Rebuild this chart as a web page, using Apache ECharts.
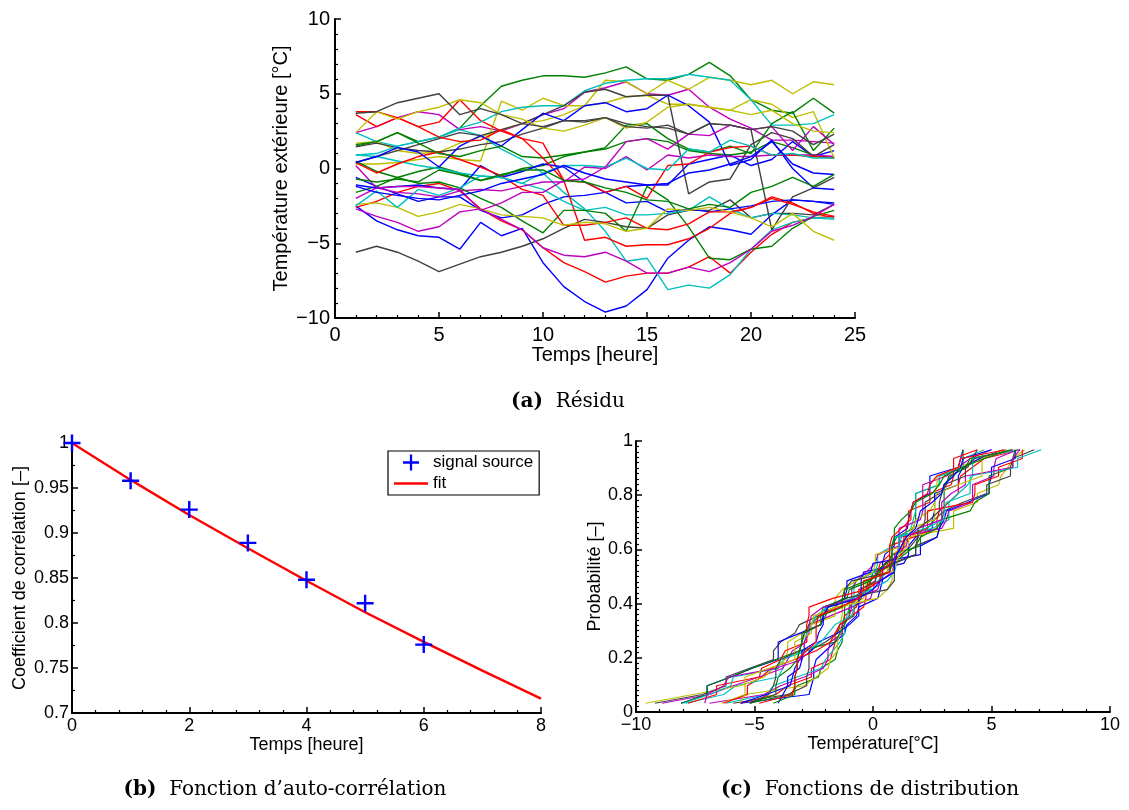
<!DOCTYPE html>
<html><head><meta charset="utf-8">
<script src="https://cdn.jsdelivr.net/npm/echarts@6/dist/echarts.min.js"></script>
<style>html,body{margin:0;padding:0;background:#fff}#c{width:1129px;height:810px}</style>
</head><body><div id="c"></div>
<script>
// ---------- DATA ----------
const hours = [1,2,3,4,5,6,7,8,9,10,11,12,13,14,15,16,17,18,19,20,21,22,23,24];
// (a) residual series, one row per curve (values in °C at hours 1..24)
const residualSeries = [
  [-2.5,-3.5,-4.1,-4.5,-4.6,-5.4,-3.6,-4.5,-4.0,-6.3,-7.9,-8.9,-9.6,-9.2,-8.1,-6.0,-4.8,-3.9,-4.1,-4.4,-3.1,-2.1,-2.2,-2.4],
  [1.5,1.8,2.4,1.8,2.1,2.7,4.2,5.5,5.9,6.2,6.2,6.1,6.4,6.8,6.0,5.9,6.3,7.1,6.2,4.6,3.9,3.7,4.7,3.7],
  [-2.6,-2.2,-1.6,-1.2,-1.0,-1.5,-2.7,-3.5,-4.1,-5.3,-6.3,-6.9,-7.6,-7.2,-7.0,-7.0,-6.6,-5.9,-7.0,-5.6,-4.4,-3.6,-3.3,-3.2],
  [2.4,1.8,1.5,1.8,2.1,2.6,2.2,1.3,0.6,-0.3,-1.6,-2.7,-4.2,-6.2,-6.0,-8.1,-7.8,-8.0,-7.1,-5.4,-4.1,-3.6,-3.3,-3.4],
  [2.4,2.8,3.4,3.8,3.6,2.6,2.8,2.5,3.0,3.6,4.0,5.1,5.4,5.8,5.0,4.9,5.3,4.1,3.3,2.7,1.9,1.9,1.8,1.7],
  [0.3,0.3,0.4,0.6,0.8,0.6,0.5,4.5,3.9,4.7,4.2,4.2,5.9,5.8,5.0,5.9,5.3,6.1,5.9,5.6,5.9,5.0,5.8,5.6],
  [-5.6,-5.2,-5.6,-6.2,-6.9,-6.4,-5.9,-5.6,-5.2,-4.7,-4.0,-3.4,-3.6,-3.9,-4.0,-3.1,-2.8,-2.8,-2.1,-3.3,-3.0,-3.0,-3.1,-2.4],
  [-0.6,-1.2,-1.7,-2.2,-1.9,-1.9,-2.8,-3.3,-3.1,-2.4,-1.9,-1.8,-1.6,-1.2,-1.1,-1.1,0.3,0.6,0.9,0.2,0.6,1.8,0.8,1.2],
  [-1.6,-1.2,-0.6,-0.2,0.1,-0.3,-0.8,-0.5,0.0,0.2,0.8,1.1,1.3,1.8,2.0,1.8,1.2,1.0,0.9,1.1,1.8,1.4,0.9,0.7],
  [3.8,3.8,3.4,2.8,3.1,4.6,3.2,2.5,2.0,1.7,-0.8,-4.8,-4.6,-5.2,-5.1,-5.1,-4.7,-4.0,-3.0,-2.6,-1.9,-2.3,-3.0,-3.3],
  [0.9,0.8,0.5,0.2,0.0,-0.3,-0.5,-0.6,-1.0,-1.4,-2.2,-2.8,-2.6,-3.1,-3.1,-3.0,-2.8,-1.9,-2.7,-3.3,-3.0,-3.1,-3.3,-3.3],
  [0.2,-1.3,-1.6,-1.7,-1.9,-1.5,-1.4,-1.5,-1.2,-0.9,-0.9,0.1,0.0,0.8,-0.1,0.9,0.7,0.9,0.8,0.8,0.9,0.9,0.9,0.8],
  [1.7,1.8,1.2,1.0,1.1,1.7,2.1,2.6,3.0,3.2,3.6,4.2,4.4,4.8,4.9,4.3,4.3,4.1,3.9,4.6,4.3,3.4,3.8,0.7],
  [1.45,1.7,1.4,1.2,1.1,1.3,1.6,1.8,2.3,2.7,3.2,3.2,3.4,3.0,2.8,2.7,2.3,3.0,2.9,2.6,-4.1,-1.9,-1.3,-0.6],
  [-1.1,-1.3,-1.2,-1.1,-1.3,-1.4,0.2,-0.6,-0.2,0.3,0.1,-0.9,-1.6,-2.3,-2.2,-2.9,-2.7,-2.9,-2.7,-2.5,-2.2,-2.1,-2.2,-2.3],
  [0.5,-0.2,-0.6,-1.0,-0.9,-1.3,-2.0,-2.6,-3.5,-4.3,-2.8,-2.8,-3.0,-4.2,-1.2,-2.1,-3.9,-6.0,-6.1,-5.4,-5.2,-4.0,-3.2,-2.8],
  [0.4,-0.3,0.3,0.8,1.1,0.6,0.1,-0.5,-1.4,-1.8,-3.8,-3.8,-3.6,-3.3,-4.0,-4.1,-3.7,-2.9,-2.9,-2.6,-2.0,-2.4,-2.9,-3.2],
  [0.9,1.0,1.5,1.8,2.1,2.7,3.1,3.8,4.1,4.2,4.2,5.2,5.7,5.9,6.0,6.0,6.3,6.1,5.9,4.6,2.9,2.9,3.0,3.6],
  [-2.7,-3.2,-3.6,-4.2,-3.9,-2.9,-2.7,-3.4,-4.1,-5.3,-5.8,-5.9,-5.6,-6.2,-7.0,-7.0,-6.6,-6.9,-6.3,-5.4,-4.2,-3.8,-3.2,-2.4],
  [-2.4,-2.3,-2.6,-3.2,-2.9,-2.4,-2.7,-3.1,-3.2,-3.3,-3.8,-3.6,-3.7,-4.2,-4.0,-2.7,-2.8,-2.6,-2.9,-3.3,-3.9,-3.0,-4.2,-4.8],
  [0.4,0.8,1.2,1.6,2.0,2.4,2.2,2.6,3.0,3.6,4.2,5.1,5.3,4.8,4.9,4.9,-1.7,-0.9,-0.7,1.6,2.4,2.0,0.8,1.6],
  [0.4,0.8,1.4,1.1,0.1,1.5,2.2,1.5,2.6,3.7,3.2,4.2,4.4,3.8,4.0,4.9,4.2,3.1,0.2,0.6,1.9,0.0,-1.3,-1.4],
  [1.6,1.8,2.4,1.7,1.0,0.8,1.2,1.5,0.8,0.7,0.9,1.1,1.4,2.9,3.0,2.0,1.3,1.1,1.5,1.0,3.0,3.8,1.2,2.7],
  [3.6,2.8,3.4,2.8,2.1,1.8,1.9,2.6,2.0,0.7,-0.8,-0.9,-1.6,-1.2,-2.0,0.2,0.3,1.1,1.4,1.5,0.9,0.9,0.8,0.7],
  [-2.5,-1.5,-2.6,-1.4,-1.8,-1.3,-0.5,-0.6,-1.0,-0.3,0.2,0.2,0.1,0.7,0.0,-0.1,1.3,1.1,1.9,1.5,0.9,1.0,0.7,0.7],
  [-2.0,-1.3,-1.2,-1.2,-1.3,-1.4,-2.8,-2.3,-1.6,-1.6,-0.8,-0.7,0.1,1.8,2.0,1.3,2.3,2.2,2.9,2.6,2.8,1.2,2.8,1.6],
  [2.4,3.8,3.3,3.8,4.1,4.6,4.4,3.6,3.3,2.7,2.5,2.9,3.4,2.7,3.1,4.1,4.3,4.1,3.9,3.6,3.9,3.0,2.5,2.4],
  [3.7,3.8,4.4,4.7,5.0,3.6,4.0,3.6,3.0,2.8,3.2,3.1,3.4,2.8,2.7,2.9,2.3,3.0,2.9,2.6,2.8,2.5,1.6,2.3],
  [-1.2,-1.6,-1.8,-2.0,-2.1,-1.8,-1.5,-1.0,-0.7,-0.4,0.2,-0.3,-0.7,-0.9,-1.1,-1.0,-0.3,-0.1,0.3,0.8,1.8,0.3,-0.3,-0.4],
  [-0.7,-0.9,-0.7,-0.9,-0.1,-0.4,-0.8,-0.4,-0.1,-0.1,-0.8,-0.9,-1.3,-1.6,-2.1,-2.2,-2.7,-2.4,-2.6,-1.6,-1.2,-0.6,-1.2,-0.4]
];
// (b) auto-correlation
const lagHours = [0,1,2,3,4,5,6];
const acfSource = [1.0,0.958,0.926,0.889,0.848,0.822,0.776];
const fitHours = [0,1,2,3,4,5,6,7,8];
const fitValues = [1.0,0.959,0.920,0.883,0.847,0.812,0.779,0.747,0.716];
const colorsMatlab = ['#0000ff','#008000','#ff0000','#00bfbf','#bf00bf','#bfbf00','#404040'];

// ---------- CHART ----------
const chart = echarts.init(document.getElementById('c'), null, {renderer:'canvas'});
const FONT = 'Liberation Sans, Arial, sans-serif';
const minus = v => String(v).replace('-', '\u2212');
const plusPath = 'path://M6,0h2v6h6v2h-6v6h-2v-6h-6v-2h6z';

function axisBase(fs, lw){
  return {
    axisLine:{show:true,onZero:false,lineStyle:{color:'#000',width:lw}},
    axisTick:{show:true,inside:true,length:6,lineStyle:{color:'#000',width:1.5}},
    minorTick:{show:true,splitNumber:5,length:3,lineStyle:{color:'#000',width:1.2}},
    splitLine:{show:false},
    axisLabel:{color:'#000',fontFamily:FONT,fontSize:fs},
    nameTextStyle:{color:'#000',fontFamily:FONT,fontSize:fs},
    nameLocation:'middle'
  };
}

const series = [];
residualSeries.forEach((s,i)=>{
  series.push({type:'line',xAxisIndex:0,yAxisIndex:0,showSymbol:false,silent:true,
    data: s.map((v,j)=>[hours[j],v]),
    lineStyle:{color:colorsMatlab[i%7],width:1.4}});
});
series.push({name:'fit',type:'line',xAxisIndex:1,yAxisIndex:1,showSymbol:false,
  data: fitValues.map((v,j)=>[fitHours[j],v]), lineStyle:{color:'#ff0000',width:2.4}, itemStyle:{color:'#ff0000'}});
series.push({name:'signal source',type:'scatter',xAxisIndex:1,yAxisIndex:1,symbol:plusPath,symbolSize:17,
  data: acfSource.map((v,j)=>[lagHours[j],v]), itemStyle:{color:'#0000ff',opacity:1}, z:5});
// (c) empirical distribution per hour, built from the residual series above
hours.forEach((h,j)=>{
  const vals = residualSeries.map(s=>s[j]).sort((a,b)=>a-b);
  const n = vals.length;
  series.push({type:'line',xAxisIndex:2,yAxisIndex:2,showSymbol:false,silent:true,
    data: vals.map((v,k)=>[v,(k+1)/(n+1)]),
    lineStyle:{color:colorsMatlab[j%7],width:1.2}});
});

const option = {
  animation:false,
  backgroundColor:'#fff',
  grid:[
    {left:335,top:19,width:520,height:299},
    {left:72,top:443,width:469,height:270},
    {left:636,top:441,width:474,height:271}
  ],
  xAxis:[
    Object.assign(axisBase(20,2),{gridIndex:0,type:'value',min:0,max:25,interval:5,name:'Temps [heure]',nameGap:23,
      axisLabel:{color:'#000',fontFamily:FONT,fontSize:20,margin:7}}),
    Object.assign(axisBase(18,2),{gridIndex:1,type:'value',min:0,max:8,interval:2,name:'Temps [heure]',nameGap:22,
      axisLabel:{color:'#000',fontFamily:FONT,fontSize:18,margin:4}}),
    Object.assign(axisBase(18,2),{gridIndex:2,type:'value',min:-10,max:10,interval:5,name:'Température[°C]',nameGap:22,
      axisLabel:{color:'#000',fontFamily:FONT,fontSize:18,margin:4,formatter:minus}})
  ],
  yAxis:[
    Object.assign(axisBase(20,2),{gridIndex:0,type:'value',min:-10,max:10,interval:5,name:'Température extérieure [°C]',nameGap:44,
      axisLabel:{color:'#000',fontFamily:FONT,fontSize:20,margin:5,formatter:minus}}),
    Object.assign(axisBase(18,2),{gridIndex:1,type:'value',min:0.7,max:1,interval:0.05,name:'Coefficient de corrélation [–]',nameGap:43,
      minorTick:{show:true,splitNumber:2,length:3,lineStyle:{color:'#000',width:1.2}},
      axisLabel:{color:'#000',fontFamily:FONT,fontSize:18,margin:3,formatter:v=>String(+v.toFixed(2))}}),
    Object.assign(axisBase(18,2),{gridIndex:2,type:'value',min:0,max:1,interval:0.2,name:'Probabilité [–]',nameGap:31,
      minorTick:{show:true,splitNumber:10,length:3,lineStyle:{color:'#000',width:1.2}},
      axisLabel:{color:'#000',fontFamily:FONT,fontSize:18,margin:3,formatter:v=>String(+v.toFixed(1))}})
  ],
  legend:{
    show:true, left:388, top:451, orient:'vertical', itemWidth:34, itemHeight:16, itemGap:4,
    padding:[3,6,3,6], borderColor:'#000', borderWidth:1.2, borderRadius:0, backgroundColor:'#fff',
    textStyle:{color:'#000',fontFamily:FONT,fontSize:17},
    data:[{name:'signal source',icon:plusPath,itemStyle:{color:'#0000ff'}},
          {name:'fit',icon:'path://M0,0h34v2.4h-34z',itemStyle:{color:'#ff0000'}}]
  },
  graphic:[
    {type:'text',x:568,y:402,style:{text:'{b|(a)}  Résidu',align:'center',verticalAlign:'middle',
      font:'20px DejaVu Serif',fill:'#000',rich:{b:{fontWeight:'bold',fontFamily:'DejaVu Serif',fontSize:20}}}},
    {type:'text',x:285,y:790,style:{text:'{b|(b)}  Fonction d’auto-corrélation',align:'center',verticalAlign:'middle',
      font:'20px DejaVu Serif',fill:'#000',rich:{b:{fontWeight:'bold',fontFamily:'DejaVu Serif',fontSize:20}}}},
    {type:'text',x:870,y:790,style:{text:'{b|(c)}  Fonctions de distribution',align:'center',verticalAlign:'middle',
      font:'20px DejaVu Serif',fill:'#000',rich:{b:{fontWeight:'bold',fontFamily:'DejaVu Serif',fontSize:20}}}}
  ],
  series: series
};
chart.setOption(option);
</script>
</body></html>
